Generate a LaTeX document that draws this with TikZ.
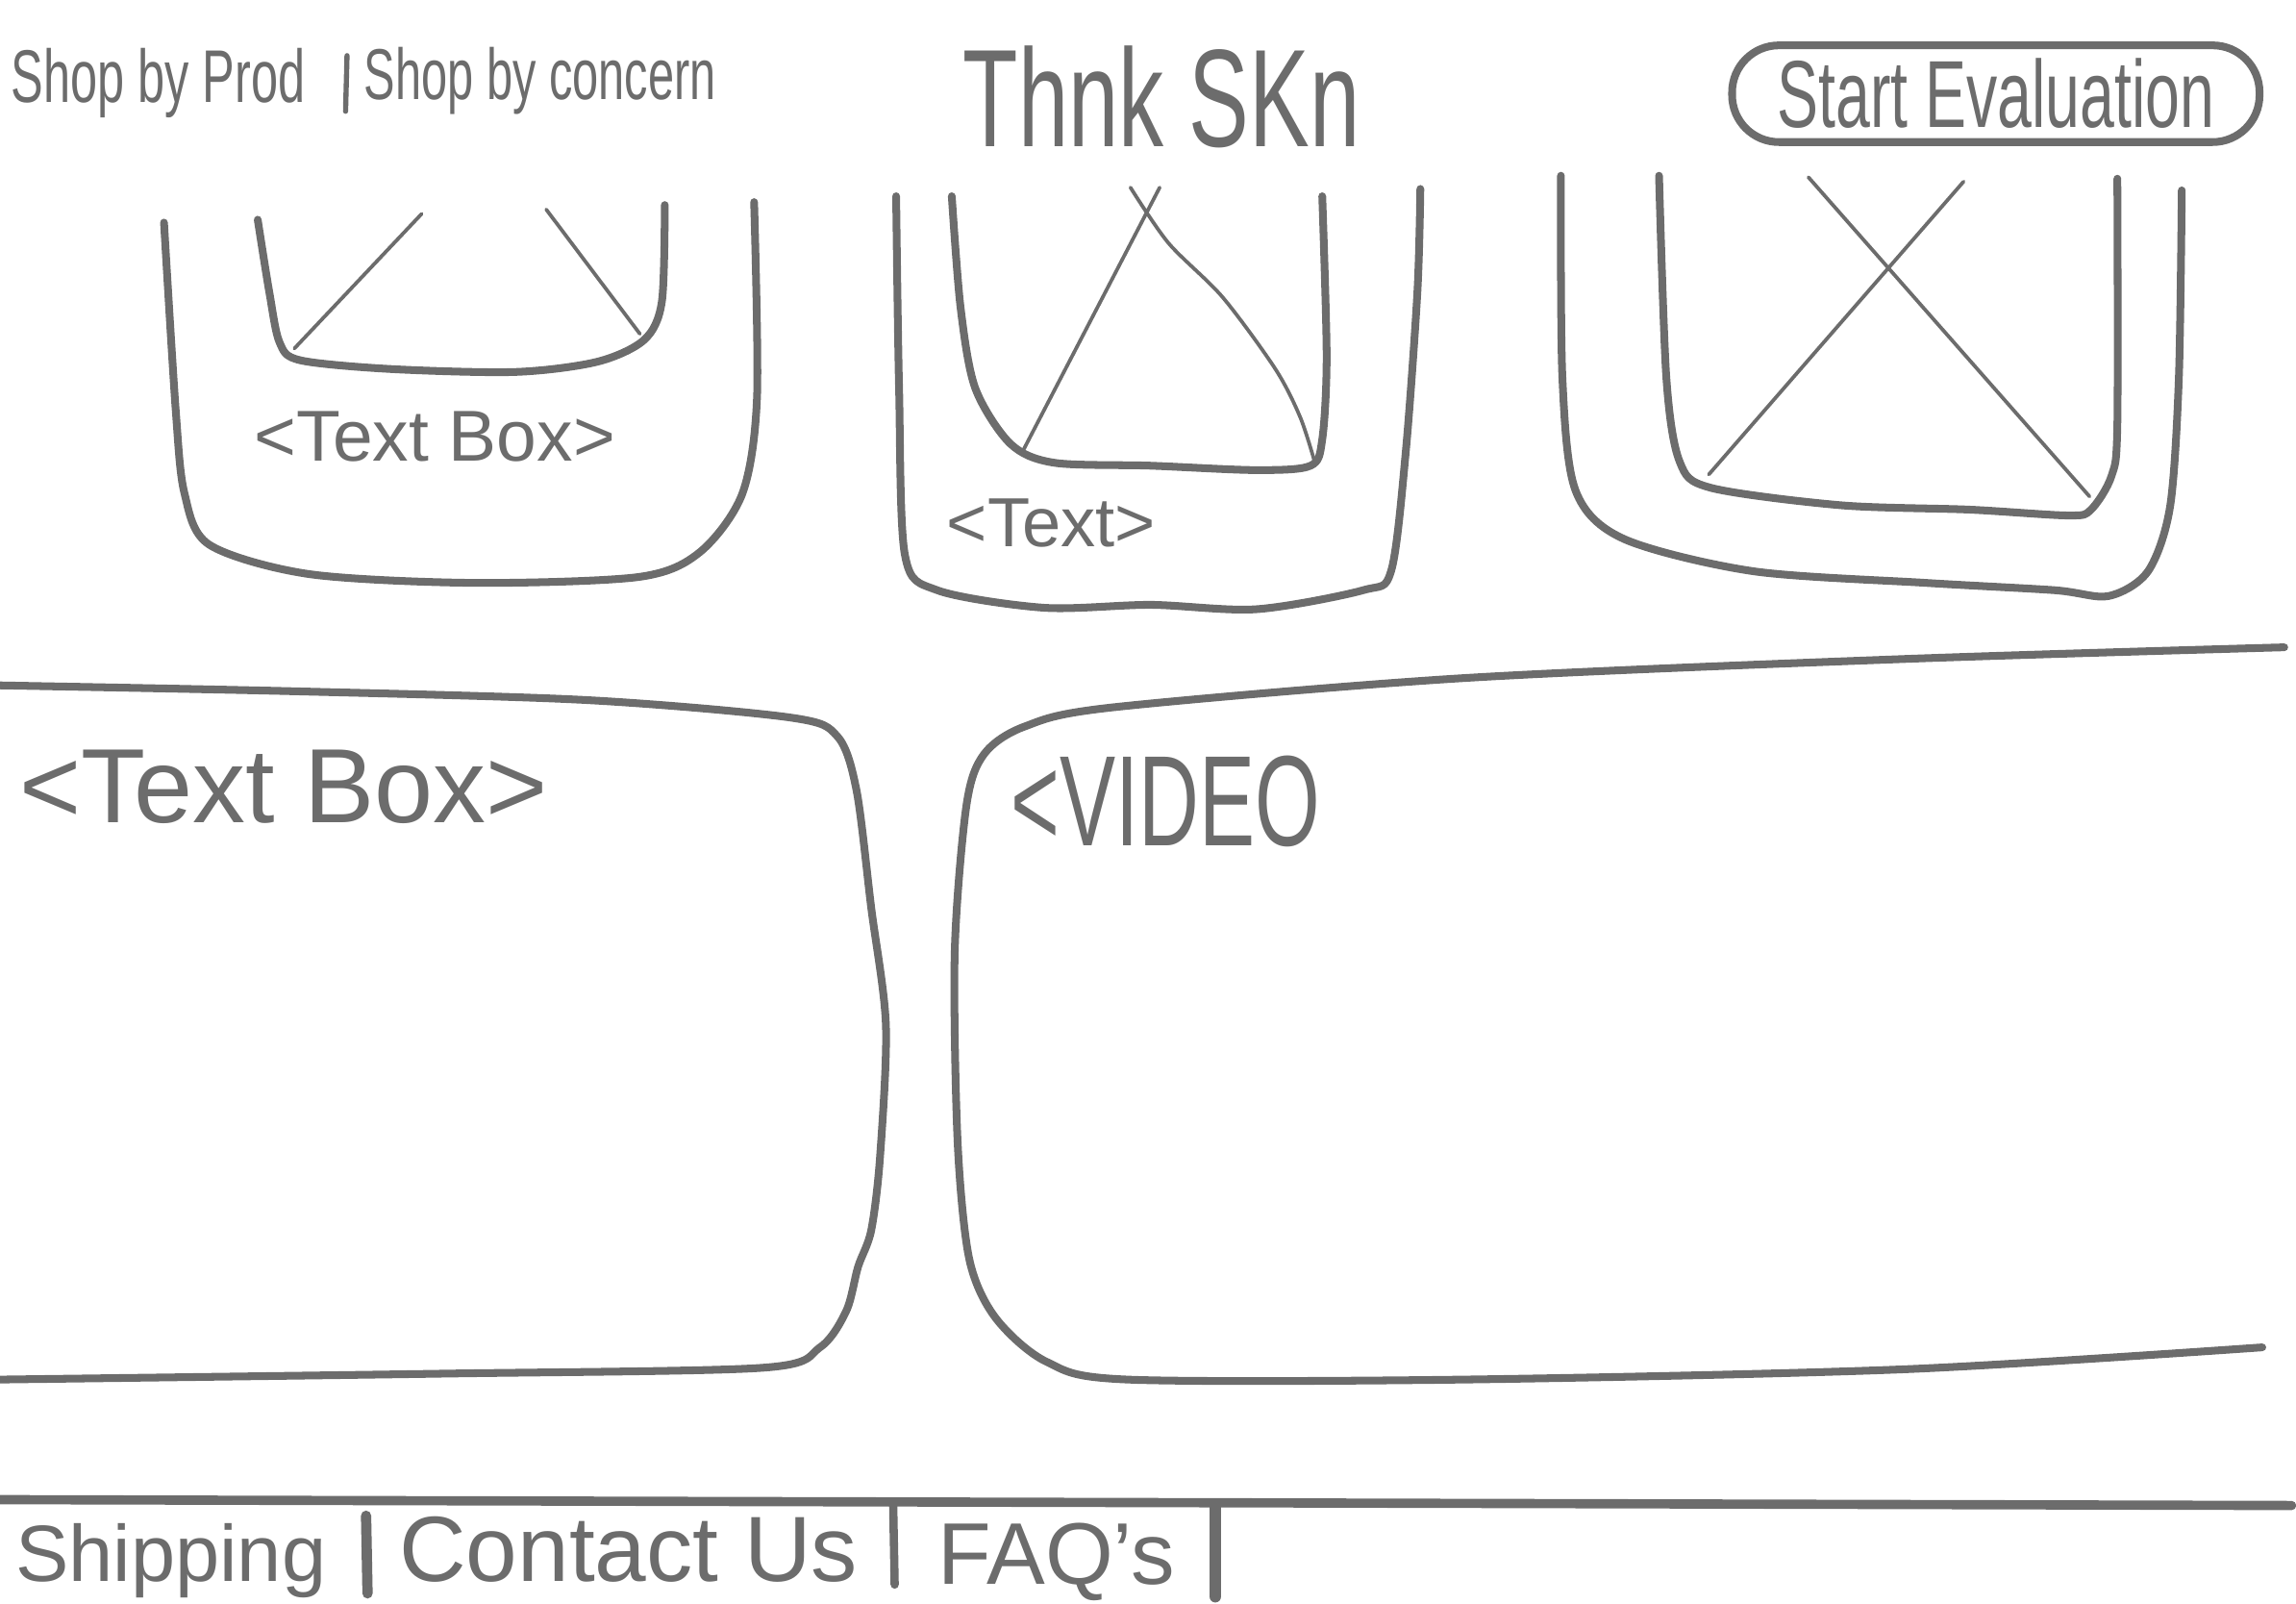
\documentclass[tikz,border=0pt]{standalone}
\usepackage{fontspec}
\setmainfont{Liberation Sans}
\newfontfamily\handnarrow[FakeStretch=0.65]{Liberation Sans}
\definecolor{pencil}{RGB}{108,108,108}

\begin{document}
\begin{tikzpicture}[x=0.01cm,y=-0.01cm,
        pencil/.style={draw=pencil,line width=1.5pt,line cap=round,line join=round},
        faint/.style={draw=pencil,line width=0.7pt,line cap=round},
        hand/.style={text=pencil,inner sep=0pt}]
        \useasboundingbox (0,0) rectangle (1568,1095);
        % header
        \node[hand,anchor=base west,font=\handnarrow\fontsize{14.5pt}{17pt}\selectfont] (navprod) at (7,70) {Shop by Prod};
        \draw[pencil,line width=1pt] (237,38) -- (236,76);
        \node[hand,anchor=base west,font=\handnarrow\fontsize{14pt}{17pt}\selectfont] (navconcern) at (248,68) {Shop by concern};
        \node[hand,anchor=base west,font=\handnarrow\fontsize{27pt}{30pt}\selectfont] (title) at (657,100) {Thnk SKn};
        \node[hand,draw=pencil,line width=1.5pt,rounded corners=0.32cm,minimum width=3.6cm,minimum height=0.66cm,
              font=\handnarrow\fontsize{18.5pt}{20pt}\selectfont] (eval) at (1363,64) {Start Evaluation};
        % card 1
        \draw[pencil] plot[smooth] coordinates {(112,152) (120,280) (126,337) (143,372) (211,392) (323,398) (436,394) (478,377) (507,337) (517,271) (515,138)};
        \draw[pencil] plot[smooth] coordinates {(176,150) (184,200) (191,234) (205,246) (267,252) (352,254) (408,247) (440,232) (452,206) (454,140)};
        \draw[faint] (201,238) -- (288,146);
        \draw[faint] (373,143) -- (437,228);
        \node[hand,font=\fontsize{14pt}{16pt}\selectfont] (card1text) at (297,298) {<Text Box>};
        % card 2
        \draw[pencil] plot[smooth] coordinates {(612,134) (614,265) (618,379) (640,403) (713,415) (786,413) (858,416) (931,403) (950,390) (960,309) (968,199) (970,129)};
        \draw[pencil] plot[smooth] coordinates {(650,134) (656,210) (666,265) (690,303) (720,316) (786,318) (858,321) (895,318) (903,300) (906,243) (903,134)};
        \draw[faint] (698,309) -- (792,128);
        \draw[faint] plot[smooth] coordinates {(772,128) (798,166) (835,203) (871,252) (888,285) (898,316)};
        \node[hand,font=\fontsize{13.5pt}{16pt}\selectfont] (card2text) at (718,357) {<Text>};
        % card 3
        \draw[pencil] plot[smooth] coordinates {(1066,120) (1067,258) (1076,335) (1109,368) (1197,390) (1315,398) (1403,403) (1440,407) (1467,390) (1482,346) (1488,258) (1490,130)};
        \draw[pencil] plot[smooth] coordinates {(1133,120) (1138,258) (1147,315) (1168,333) (1257,345) (1345,348) (1413,352) (1428,348) (1442,325) (1446,290) (1446,122)};
        \draw[faint] (1235,121) -- (1427,339);
        \draw[faint] (1341,124) -- (1167,324);
        % lower boxes
        \draw[pencil] plot[smooth] coordinates {(0,468) (200,472) (400,478) (540,490) (572,503) (585,540) (595,620) (605,700) (601,790) (595,840) (586,865) (578,895) (560,920) (520,934) (300,938) (0,942)};
        \node[hand,font=\fontsize{20.5pt}{22pt}\selectfont] (infotext) at (194,537) {<Text Box>};
        \draw[pencil] plot[smooth] coordinates {(1560,442) (1300,450) (1000,463) (760,483) (700,496) (672,515) (660,550) (652,650) (654,780) (662,860) (680,900) (715,930) (770,942) (1000,942) (1300,935) (1545,920)};
        \node[hand,anchor=west,font=\handnarrow\fontsize{25pt}{27pt}\selectfont] (video) at (690,547) {<VIDEO};
        % footer
        \draw[pencil,line width=1.8pt] (0,1024) -- (1565,1028);
        \node[hand,anchor=base west,font=\fontsize{15.5pt}{18pt}\selectfont] (shipping) at (10,1080) {Shipping};
        \draw[pencil,line width=2pt] (250,1035) -- (251,1088);
        \node[hand,anchor=base west,font=\fontsize{18pt}{20pt}\selectfont] (contact) at (272,1080) {Contact Us};
        \draw[pencil,line width=1.6pt] (610,1028) -- (611,1082);
        \node[hand,anchor=base west,font=\fontsize{17pt}{19pt}\selectfont] (faq) at (640,1082) {FAQ's};
        \draw[pencil,line width=2.4pt] (830,1028) -- (830,1090);
\end{tikzpicture}
\end{document}
